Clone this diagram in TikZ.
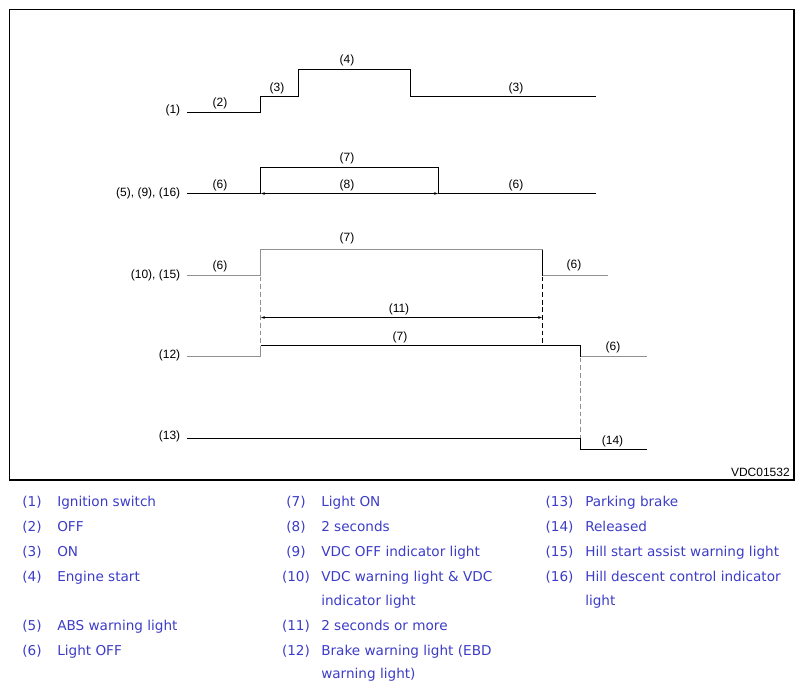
\documentclass[tikz,border=0pt]{standalone}
\usepackage{fontspec}
\setmainfont{Liberation Sans}
\newfontfamily\legfont{DejaVu Sans}
\usetikzlibrary{arrows.meta}
\definecolor{legblue}{RGB}{60,60,200}
\definecolor{offgray}{RGB}{145,145,145}

\begin{document}
\begin{tikzpicture}[x=0.75pt,y=-0.75pt,
    sig/.style={line width=0.85pt,line join=miter},
    offsig/.style={sig,offgray},
    guide/.style={line width=0.75pt,dash pattern=on 3.6pt off 2.2pt},
    dim/.style={line width=0.75pt,{Stealth[length=3pt,width=2pt]}-{Stealth[length=3pt,width=2pt]}},
    lbl/.style={font=\fontsize{9}{10}\selectfont,inner sep=0pt},
    leg/.style={font=\legfont\fontsize{10.2}{12}\selectfont,legblue,inner sep=0pt}]
    \useasboundingbox (0,0) rectangle (803,690);
    \draw[line width=0.8pt] (9.5,9.5) rectangle (794,480);
    % ignition switch
    \draw[sig] (187,112.5) -| (260.5,96.5) -| (298.5,69.5) -| (410.5,96.5) -- (596,96.5);
    % ABS / VDC OFF / hill descent
    \draw[sig] (187,193.5) -| (260.5,167.5) -| (438.5,193.5) -- (596,193.5);
    \coordinate (a8) at (261,193.5);
    \coordinate (b8) at (438,193.5);
    \draw[dim] (a8) -- (b8);
    % VDC warning / hill start
    \draw[offsig] (187,275.5) -| (260.5,249.5) -- (542.5,249.5);
    \draw[sig] (542.5,249.5) -- (542.5,275.5);
    \draw[offsig] (542.5,275.5) -- (608,275.5);
    % brake warning
    \draw[offsig] (187,356.5) -| (260.5,345.5);
    \draw[sig] (260.5,345.5) -| (580.5,356.5);
    \draw[offsig] (580.5,356.5) -- (647,356.5);
    % parking brake
    \draw[sig] (187,438.5) -| (580.5,449.5) -- (647,449.5);
    \draw[guide,offgray] (260.5,276.5) -- (260.5,345);
    \draw[guide] (542.5,276.5) -- (542.5,345);
    \draw[guide,offgray] (580.5,357.5) -- (580.5,438);
    \coordinate (a11) at (261,317.5);
    \coordinate (b11) at (542,317.5);
    \draw[dim] (a11) -- (b11);
    \foreach \x/\y/\t in {220/103/(2),277/88/(3),347/60.5/(4),516/88/(3),
        220/185/(6),347/158/(7),347/185/(8),516/185/(6),
        220/266/(6),347/238.7/(7),574/265.5/(6),399/309.7/(11),
        400/337/(7),613/347/(6),612.5/441/(14)}
      \node[lbl] at (\x,\y) {\t};
    \foreach \y/\t in {110.5/(1),193.7/{(5), (9), (16)},275.5/{(10), (15)},
        355/(12),436.7/(13)}
      \node[lbl,anchor=east] at (180.5,\y) {\t};
    \node[lbl,anchor=base east] (code) at (790,476) {VDC01532};
    % legend
    \foreach \x/\y/\n in {32/506.5/1,32/531.5/2,32/556.5/3,32/581.5/4,32/630.5/5,32/655.5/6,
        296/506.5/7,296/531.5/8,296/556.5/9,296/581.5/10,296/630.5/11,296/655.5/12,
        559.5/506.5/13,559.5/531.5/14,559.5/556.5/15,559.5/581.5/16}
      \node[leg,anchor=base] at (\x,\y) {(\n)};
    \foreach \x/\y/\t in {57/506.5/Ignition switch,57/531.5/OFF,57/556.5/ON,
        57/581.5/Engine start,57/630.5/ABS warning light,57/655.5/Light OFF,
        321/506.5/Light ON,321/531.5/2 seconds,321/556.5/VDC OFF indicator light,
        321/581.5/VDC warning light \& VDC,321/605/indicator light,
        321/630.5/2 seconds or more,321/655.5/Brake warning light (EBD,
        321/678.5/warning light),585/506.5/Parking brake,585/531.5/Released,
        585/556.5/Hill start assist warning light,
        585/581.5/Hill descent control indicator,585/605/light}
      \node[leg,anchor=base west] at (\x,\y) {\t};
\end{tikzpicture}
\end{document}
